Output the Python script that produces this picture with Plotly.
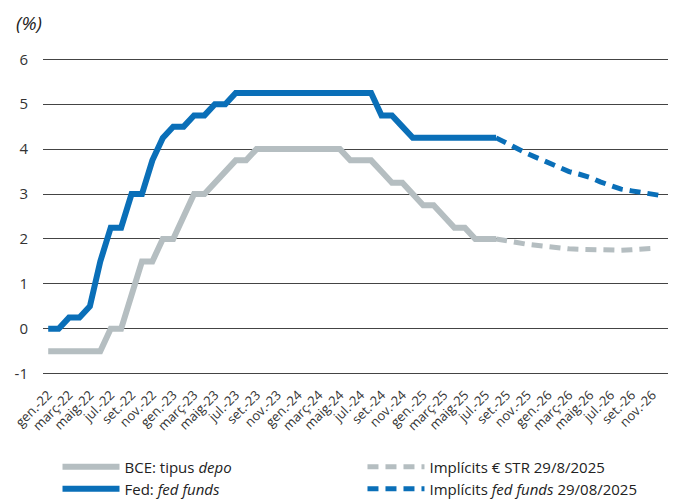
import plotly.graph_objects as go

# ---- data ----
months = []
mnames = ["gen.", "febr.", "març", "abr.", "maig", "juny", "jul.", "ag.", "set.", "oct.", "nov.", "des."]
for yy in ["22", "23", "24", "25", "26"]:
    for m in mnames:
        months.append(f"{m}-{yy}")

tick_labels = ["gen.-22", "març-22", "maig-22", "jul.-22", "set.-22", "nov.-22",
               "gen.-23", "març-23", "maig-23", "jul.-23", "set.-23", "nov.-23",
               "gen.-24", "març-24", "maig-24", "jul.-24", "set.-24", "nov.-24",
               "gen.-25", "març-25", "maig-25", "jul.-25", "set.-25", "nov.-25",
               "gen.-26", "març-26", "maig-26", "jul.-26", "set.-26", "nov.-26"]

# Jan-22 .. Aug-25
bce_depo = [-0.5, -0.5, -0.5, -0.5, -0.5, -0.5, 0.0, 0.0, 0.75, 1.5, 1.5, 2.0,
            2.0, 2.5, 3.0, 3.0, 3.25, 3.5, 3.75, 3.75, 4.0, 4.0, 4.0, 4.0,
            4.0, 4.0, 4.0, 4.0, 4.0, 3.75, 3.75, 3.75, 3.5, 3.25, 3.25, 3.0,
            2.75, 2.75, 2.5, 2.25, 2.25, 2.0, 2.0, 2.0]
fed_funds = [0.0, 0.0, 0.25, 0.25, 0.5, 1.5, 2.25, 2.25, 3.0, 3.0, 3.75, 4.25,
             4.5, 4.5, 4.75, 4.75, 5.0, 5.0, 5.25, 5.25, 5.25, 5.25, 5.25, 5.25,
             5.25, 5.25, 5.25, 5.25, 5.25, 5.25, 5.25, 5.25, 4.75, 4.75, 4.5, 4.25,
             4.25, 4.25, 4.25, 4.25, 4.25, 4.25, 4.25, 4.25]
# Aug-25 .. Nov-26
estr_implied = [2.0, 1.95, 1.92, 1.88, 1.85, 1.82, 1.80, 1.78, 1.77, 1.76,
                1.75, 1.75, 1.75, 1.76, 1.77, 1.79]
# Aug-25 .. Dec-26
fed_implied = [4.25, 4.13, 4.0, 3.9, 3.8, 3.7, 3.6, 3.5, 3.44, 3.37,
               3.27, 3.19, 3.11, 3.07, 3.03, 2.99, 2.96]

GREY = "#b5bec1"
BLUE = "#0a6fb8"
FONT = "Open Sans"

idx = list(range(len(months)))
x_hist = idx[:len(fed_funds)]
x_estr = idx[43:43 + len(estr_implied)]
x_fed_impl = idx[43:43 + len(fed_implied)]

fig = go.Figure()
fig.add_trace(go.Scatter(x=x_hist, y=bce_depo, mode="lines", name="BCE: tipus <i>depo</i>",
                         line=dict(color=GREY, width=6), legend="legend"))
fig.add_trace(go.Scatter(x=x_estr, y=estr_implied, mode="lines", name="Implícits € STR 29/8/2025",
                         line=dict(color=GREY, width=5, dash="11px,7px"), legend="legend2"))
fig.add_trace(go.Scatter(x=x_hist, y=fed_funds, mode="lines", name="Fed: <i>fed funds</i>",
                         line=dict(color=BLUE, width=6), legend="legend3"))
fig.add_trace(go.Scatter(x=x_fed_impl, y=fed_implied, mode="lines",
                         name="Implícits <i>fed funds</i> 29/08/2025",
                         line=dict(color=BLUE, width=5, dash="11px,7px"), legend="legend4"))

y0, y1 = -1.05, 6.05
leg_font = dict(size=15, family=FONT, color="#222222")
col1_x, col2_x = 0.0728, 0.5213
row1_y, row2_y = 0.082, 0.038


def leg(x, y):
    return dict(orientation="h", xref="container", yref="container",
                x=x, y=y, xanchor="left", yanchor="middle",
                font=leg_font, itemwidth=57, bgcolor="rgba(0,0,0,0)", borderwidth=0)


fig.update_layout(
    width=680, height=500,
    margin=dict(l=35, r=20, t=49, b=132),
    paper_bgcolor="white", plot_bgcolor="white",
    font=dict(family=FONT, color="#333333"),
    showlegend=True,
    legend=leg(col1_x, row1_y),
    legend2=leg(col2_x, row1_y),
    legend3=leg(col1_x, row2_y),
    legend4=leg(col2_x, row2_y),
    xaxis=dict(range=[-0.5, 59.5], tickmode="array",
               tickvals=idx[::2], ticktext=tick_labels,
               tickangle=-45, ticks="", showgrid=False, zeroline=False, showline=False,
               tickfont=dict(size=13, family=FONT, color="#333333"),
               ticklabelstandoff=8, automargin=False),
    xaxis2=dict(range=[-0.5, 59.5], overlaying="x", anchor="free",
                position=(0 - y0) / (y1 - y0), side="bottom",
                tickmode="array", tickvals=[v - 0.5 for v in idx[::2]],
                showticklabels=False, ticks="inside", ticklen=5, tickwidth=1,
                tickcolor="#222222", showline=True, linecolor="#222222", linewidth=1.3,
                showgrid=False, zeroline=False, automargin=False),
    yaxis=dict(range=[y0, y1], tickmode="array", tickvals=[-1, 0, 1, 2, 3, 4, 5, 6],
               ticktext=["-1", "0", "1", "2", "3", "4", "5", "6"],
               showgrid=True, gridcolor="#444444", gridwidth=1, zeroline=False,
               ticks="", ticklabelstandoff=14, automargin=False,
               tickfont=dict(size=15, family=FONT, color="#333333")),
    annotations=[dict(text="<i>(%)</i>", xref="paper", yref="paper", x=-0.047, y=1.108,
                      xanchor="left", yanchor="middle", showarrow=False,
                      font=dict(size=19, family=FONT, color="#222222"))],
)

fig.write_html("out.html")
